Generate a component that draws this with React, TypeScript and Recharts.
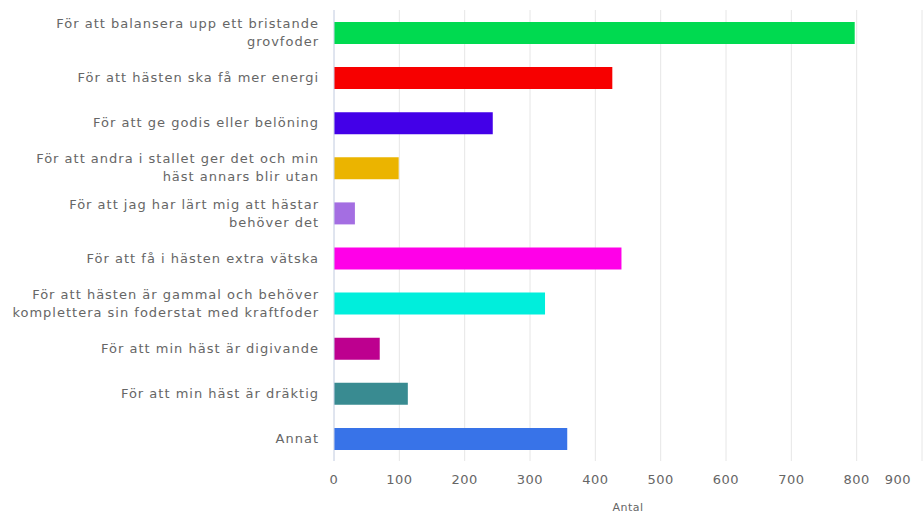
import React from "react";
import { BarChart, Bar, XAxis, YAxis, CartesianGrid, Cell } from "recharts";

const categories = [
  "För att balansera upp ett bristande\ngrovfoder",
  "För att hästen ska få mer energi",
  "För att ge godis eller belöning",
  "För att andra i stallet ger det och min\nhäst annars blir utan",
  "För att jag har lärt mig att hästar\nbehöver det",
  "För att få i hästen extra vätska",
  "För att hästen är gammal och behöver\nkomplettera sin foderstat med kraftfoder",
  "För att min häst är digivande",
  "För att min häst är dräktig",
  "Annat",
];

const antal = [797, 426, 243, 99, 32, 440, 323, 70, 113, 357];

const barColors = [
  "#00da50",
  "#f70000",
  "#4300e8",
  "#ebb400",
  "#a46ee2",
  "#ff00e8",
  "#00eedc",
  "#bd008f",
  "#398b91",
  "#3873e8",
];

const xTicks = [0, 100, 200, 300, 400, 500, 600, 700, 800, 900];

const data = categories.map((name, i) => ({ name, value: antal[i] }));

const FONT = '"DejaVu Sans", sans-serif';

function CategoryTick(props: any) {
  const { x, y, payload } = props;
  const lines: string[] = String(payload.value).split("\n");
  const lh = 18;
  const start = -((lines.length - 1) * lh) / 2;
  return (
    <text
      x={x}
      y={y}
      textAnchor="end"
      fill="#666"
      fontSize={13}
      letterSpacing={1}
      fontFamily={FONT}
    >
      {lines.map((l, i) => (
        <tspan key={i} x={x} y={y + start + i * lh} dy="0.35em">
          {l}
        </tspan>
      ))}
    </text>
  );
}

function ValueTick(props: any) {
  const { x, y, payload } = props;
  const last = payload.value === xTicks[xTicks.length - 1];
  return (
    <text
      x={last ? x - 1 : x}
      y={y}
      dy="0.71em"
      textAnchor={last ? "end" : "middle"}
      fill="#666"
      fontSize={13}
      letterSpacing={0.5}
      fontFamily={FONT}
    >
      {payload.value}
    </text>
  );
}

export default function App() {
  return (
    <div style={{ position: "absolute", left: 0, top: 0, background: "#fff" }}>
      <BarChart
        width={924}
        height={513}
        data={data}
        layout="vertical"
        margin={{ top: 10, right: 2, left: 0, bottom: 0 }}
        barSize={22}
      >
        <CartesianGrid horizontal={false} stroke="#e6e6e6" />
        <XAxis
          type="number"
          domain={[0, 900]}
          ticks={xTicks}
          axisLine={false}
          tickLine={false}
          tickSize={0}
          tickMargin={14}
          height={52}
          tick={<ValueTick />}
          label={{
            value: "Antal",
            position: "insideBottom",
            offset: 2,
            fill: "#666",
            fontSize: 11,
            letterSpacing: 0.5,
            fontFamily: FONT,
          }}
        />
        <YAxis
          type="category"
          dataKey="name"
          width={334}
          axisLine={{ stroke: "#ccd6eb" }}
          tickLine={false}
          tickSize={0}
          tickMargin={15}
          interval={0}
          tick={<CategoryTick />}
        />
        <Bar dataKey="value" isAnimationActive={false}>
          {data.map((d, i) => (
            <Cell key={d.name} fill={barColors[i]} />
          ))}
        </Bar>
      </BarChart>
    </div>
  );
}
